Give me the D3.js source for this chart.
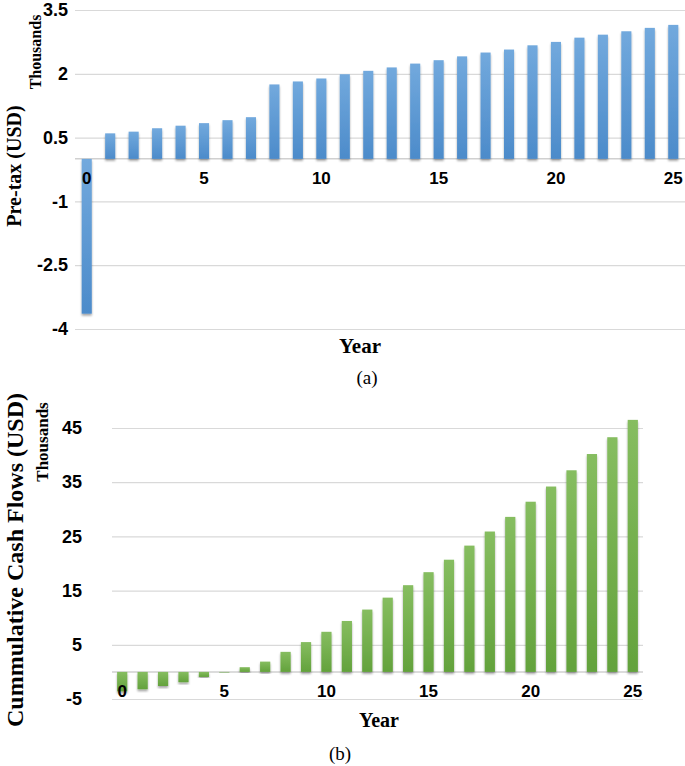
<!DOCTYPE html>
<html><head><meta charset="utf-8">
<script src="https://cdn.jsdelivr.net/npm/d3@7"></script>
<style>
body{margin:0;background:#fff;}
svg{display:block;font-family:"Liberation Serif","Times New Roman",serif;}
.tick text{font-weight:bold;fill:#000;}
</style></head><body>
<svg id="c" width="685" height="766"></svg>
<script>
const years = d3.range(0, 26);
const preTax = [-3.64, 0.60, 0.64, 0.72, 0.78, 0.84, 0.91, 0.98, 1.75, 1.82, 1.89, 1.99, 2.07, 2.15, 2.24, 2.32, 2.41, 2.50, 2.57, 2.67, 2.75, 2.85, 2.92, 3.00, 3.08, 3.15];
const cumulative = [-3.6, -3.2, -2.6, -1.9, -0.93, -0.1, 0.87, 1.9, 3.7, 5.5, 7.4, 9.4, 11.5, 13.7, 16.0, 18.4, 20.7, 23.3, 25.9, 28.6, 31.4, 34.2, 37.2, 40.2, 43.3, 46.5];
const preTaxTicks = [-4, -2.5, -1, 0.5, 2, 3.5];
const cumTicks = [-5, 5, 15, 25, 35, 45];
const yearTicks = [0, 5, 10, 15, 20, 25];

const svg = d3.select("#c");
const defs = svg.append("defs");
function grad(id, c1, c2) {
  const g = defs.append("linearGradient").attr("id", id).attr("x1", 0).attr("y1", 0).attr("x2", 0).attr("y2", 1);
  g.append("stop").attr("offset", "0%").attr("stop-color", c1);
  g.append("stop").attr("offset", "100%").attr("stop-color", c2);
}
grad("gBlue", "#72a9dd", "#4c8bca");
grad("gGreen", "#86bd60", "#63a23c");
const f = defs.append("filter").attr("id", "sh").attr("x", "-50%").attr("y", "-10%").attr("width", "200%").attr("height", "130%");
f.append("feDropShadow").attr("dx", 0).attr("dy", 2).attr("stdDeviation", 1.2).attr("flood-color", "#000").attr("flood-opacity", 0.35);

function panel(o) {
  const g = svg.append("g");
  const x = d3.scaleBand().domain(years).range([o.x0, o.x1]).paddingInner(o.pad).paddingOuter(o.pad / 2);
  const y = d3.scaleLinear().domain(o.dom).range(o.yr);
  g.append("g").attr("transform", `translate(${o.x0},0)`)
    .call(d3.axisLeft(y).tickValues(o.ticks).tickSize(-(o.x1 - o.x0)).tickFormat(""))
    .call(s => s.select(".domain").remove())
    .call(s => s.selectAll(".tick line").attr("stroke", "#d9d9d9").attr("stroke-width", 1.2));
  g.append("line").attr("x1", o.x0).attr("x2", o.x1).attr("y1", y(0)).attr("y2", y(0))
    .attr("stroke", "#d0d0d0").attr("stroke-width", 1.5);
  g.append("g").selectAll("rect").data(o.vals).join("rect")
    .attr("x", (d, i) => x(years[i]))
    .attr("width", x.bandwidth())
    .attr("y", d => y(Math.max(0, d)))
    .attr("height", d => Math.abs(y(d) - y(0)))
    .attr("fill", o.fill)
    .attr("filter", "url(#sh)");
  g.append("g").attr("transform", `translate(${o.x0},0)`)
    .call(d3.axisLeft(y).tickValues(o.ticks).tickSize(0).tickPadding(o.ypad).tickFormat(d => String(d)))
    .call(s => s.select(".domain").remove())
    .call(s => s.selectAll("text").style("font-size", "18px"));
  g.append("g").attr("transform", `translate(0,${y(0)})`)
    .call(d3.axisBottom(x).tickValues(yearTicks).tickSize(0).tickPadding(o.xpad))
    .call(s => s.select(".domain").remove())
    .call(s => s.selectAll("text").style("font-size", "17px"));
  g.append("text").attr("transform", `translate(${o.thX},${o.thY}) rotate(-90)`)
    .attr("text-anchor", "middle").attr("dy", "0.35em").style("font-weight", "bold").style("font-size", o.thSize).text("Thousands");
  g.append("text").attr("transform", `translate(${o.tX},${o.tY}) rotate(-90)`)
    .attr("text-anchor", "middle").attr("dy", "0.35em").style("font-weight", "bold").style("font-size", o.tSize).text(o.title);
  g.append("text").attr("x", o.yrX).attr("y", o.yrY).attr("text-anchor", "middle").attr("dy", "0.35em")
    .style("font-weight", "bold").style("font-size", o.yrSize).text("Year");
  g.append("text").attr("x", o.capX).attr("y", o.capY).attr("text-anchor", "middle").attr("dy", "0.35em")
    .style("font-size", "19px").text(o.cap);
}

panel({x0: 75, x1: 685, pad: 0.57, dom: [-4, 3.5], yr: [329, 10], ticks: preTaxTicks, vals: preTax, fill: "url(#gBlue)",
  ypad: 7, xpad: 13, thX: 35, thY: 52, thSize: "16px", tX: 14, tY: 166, tSize: "20px", title: "Pre-tax (USD)",
  yrX: 360, yrY: 346, yrSize: "21px", capX: 367, capY: 377, cap: "(a)"});
panel({x0: 112, x1: 643, pad: 0.5, dom: [-5, 45], yr: [699, 428], ticks: cumTicks, vals: cumulative, fill: "url(#gGreen)",
  ypad: 30, xpad: 13, thX: 42, thY: 442, thSize: "17px", tX: 15, tY: 560, tSize: "24px", title: "Cummulative Cash Flows (USD)",
  yrX: 379, yrY: 720, yrSize: "20px", capX: 340, capY: 753, cap: "(b)"});
</script></body></html>
